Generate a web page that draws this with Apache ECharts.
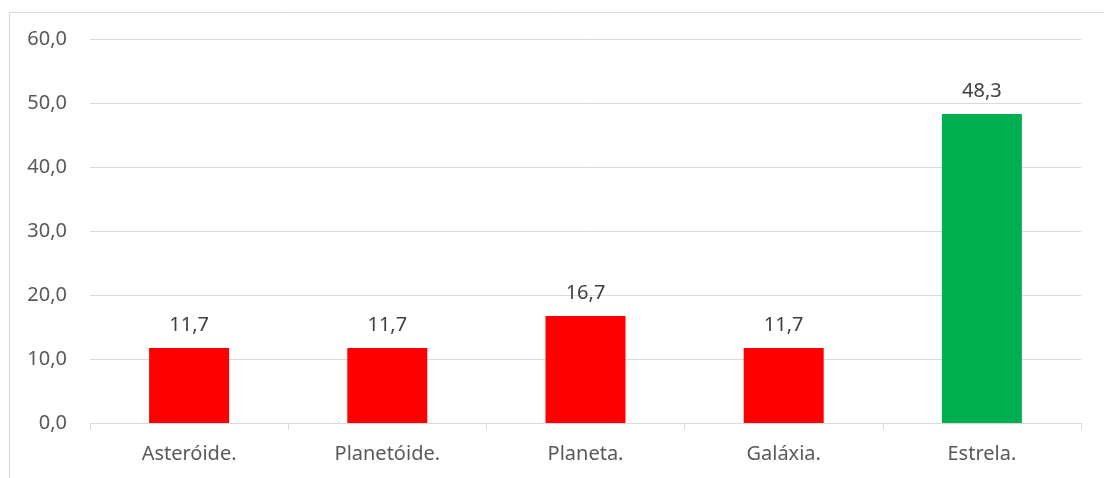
<!DOCTYPE html>
<html><head><meta charset="utf-8">
<style>html,body{margin:0;padding:0;background:#fff}#c{width:1104px;height:478px}</style>
<script src="https://cdn.jsdelivr.net/npm/echarts@6/dist/echarts.min.js"></script>
</head><body><div id="c"></div>
<script>
const categories = ['Asteróide.', 'Planetóide.', 'Planeta.', 'Galáxia.', 'Estrela.'];
const values = [11.7, 11.7, 16.7, 11.7, 48.3];
const barColors = ['#FF0000', '#FF0000', '#FF0000', '#FF0000', '#00B050'];
const yTicks = { min: 0, max: 60, interval: 10 };

const fmt = v => v.toFixed(1).replace('.', ',');
const font = '"Noto Sans", sans-serif';
const chart = echarts.init(document.getElementById('c'), null, { renderer: 'canvas' });
chart.setOption({
  animation: false,
  backgroundColor: '#fff',
  graphic: [{
    type: 'rect', left: 7, top: 10, z: -1,
    shape: { width: 1200, height: 600 },
    style: { fill: 'none', stroke: '#d9d9d9', lineWidth: 1 }
  }],
  grid: { left: 90, right: 23, top: 39, bottom: 55, containLabel: false },
  xAxis: {
    type: 'category', data: categories,
    axisLine: { lineStyle: { color: '#d9d9d9', width: 1 } },
    axisTick: { show: true, length: 7, lineStyle: { color: '#d9d9d9' } },
    axisLabel: { color: '#595959', fontSize: 20, fontFamily: font, margin: 21 }
  },
  yAxis: {
    type: 'value', min: yTicks.min, max: yTicks.max, interval: yTicks.interval,
    axisLine: { show: false }, axisTick: { show: false },
    splitLine: { lineStyle: { color: '#d9d9d9', width: 1 } },
    axisLabel: { color: '#595959', fontSize: 20, fontFamily: font, margin: 23, formatter: fmt }
  },
  series: [{
    type: 'bar', barWidth: 80,
    data: values.map((v, i) => ({ value: v, itemStyle: { color: barColors[i] } })),
    label: { show: true, position: 'top', distance: 13, color: '#404040', fontSize: 20, fontFamily: font,
      formatter: p => fmt(p.value) }
  }]
});
</script></body></html>
